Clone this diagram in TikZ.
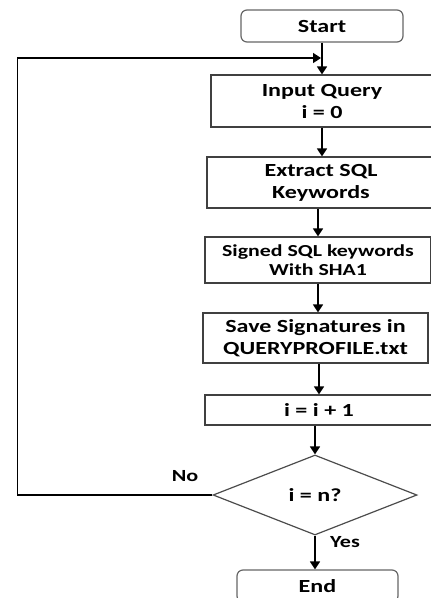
\documentclass[tikz,border=0pt]{standalone}
\usepackage{fontspec}
\setmainfont{Carlito}[FakeStretch=1.3]
\usetikzlibrary{arrows.meta,shapes.geometric}
\begin{document}
\begin{tikzpicture}[x=1pt,y=-1pt]
	\tikzstyle{none}=[inner sep=0pt]
	\tikzstyle{box}=[draw=black!75,line width=1.2pt,inner sep=0pt,align=center,font=\bfseries\fontsize{18.5}{22}\selectfont]
	\tikzstyle{term}=[box,rounded corners=6pt,draw=black!60]
	\tikzstyle{decision}=[box,diamond,draw=black!70]
	\tikzstyle{label}=[inner sep=0pt,font=\bfseries\fontsize{17}{20}\selectfont]
	\tikzstyle{arrow1}=[-{Triangle[length=8pt,width=10pt]},draw,line width=1.6pt]
	\clip (0,0) rectangle (431,598);
		\node [style=term, minimum width=162pt, minimum height=32pt] (0) at (322, 26) {Start};
		\node [style=box, minimum width=222pt, minimum height=52pt] (1) at (322, 101) {Input Query\\i = 0};
		\node [style=box, minimum width=228pt, minimum height=51pt] (2) at (321, 182.5) {Extract SQL\\Keywords};
		\node [style=box, minimum width=226pt, minimum height=46pt, font=\bfseries\fontsize{16.8}{19.5}\selectfont] (3) at (318, 260) {Signed SQL keywords\\With SHA1};
		\node [style=box, minimum width=225pt, minimum height=50pt] (4) at (315.5, 338) {Save Signatures in\\QUERYPROFILE.txt};
		\node [style=box, minimum width=228pt, minimum height=30pt] (5) at (319, 410) {i = i + 1};
		\node [style=decision, minimum width=204pt, minimum height=80pt] (6) at (315, 495) {i = n?};
		\node [style=term, minimum width=161pt, minimum height=32pt] (7) at (317.5, 586) {End};
		\node [style=label] (8) at (185, 476) {No};
		\node [style=label] (9) at (345, 542) {Yes};
		\coordinate (10) at (321, 58);

		\draw [style=arrow1] (0.south) to (0.south |- 1.north);
		\draw [style=arrow1] (1.south) to (1.south |- 2.north);
		\draw [style=arrow1] (3.north |- 2.south) to (3.north);
		\draw [style=arrow1] (3.south) to (3.south |- 4.north);
		\draw [style=arrow1] (5.north |- 4.south) to (5.north);
		\draw [style=arrow1] (6.north |- 5.south) to (6.north);
		\draw [style=arrow1] (6.south) to (6.south |- 7.north);
		\draw [style=arrow1] (6.west) -- ++(-195,0) |- (10);

\end{tikzpicture}
\end{document}
